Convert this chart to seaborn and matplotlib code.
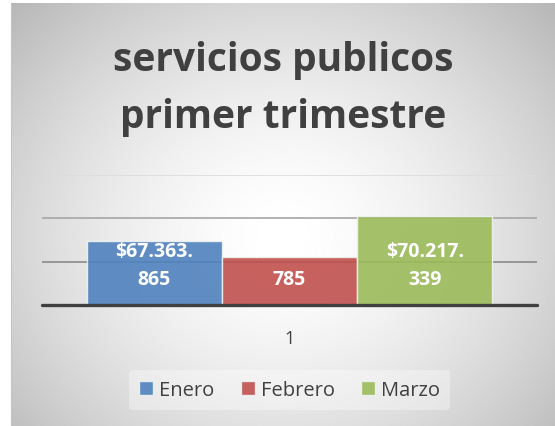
import numpy as np
import pandas as pd
import seaborn as sns
import matplotlib.pyplot as plt

# datos del grafico
meses = ['Enero', 'Febrero', 'Marzo']
valores = [67363865, 65480785, 70217339]
categoria = ['1', '1', '1']
colores = ['#4F81BD', '#C0504D', '#9BBB59']
titulo = 'servicios publicos\nprimer trimestre'
y_min, y_max = 60e6, 75e6

sns.set_style('white')
plt.rcParams['font.family'] = ['Open Sans', 'DejaVu Sans']

df = pd.DataFrame({'cat': categoria, 'mes': meses, 'valor': valores})

fig = plt.figure(figsize=(5.55, 4.27), dpi=100)
fig.patch.set_facecolor('white')

# fondo con degradado radial (estilo Excel)
bg = fig.add_axes([11 / 555, 0, 1 - 11 / 555, 1 - 4 / 427], zorder=0)
yy, xx = np.mgrid[0:1:300j, 0:1:400j]
r = np.sqrt(((xx - 0.5) / 0.75) ** 2 + ((yy - 0.55) / 0.85) ** 2)
shade = 1 - 0.32 * np.clip(r, 0, 1.2) ** 1.6
bg.imshow(shade, cmap='gray', vmin=0, vmax=1, aspect='auto', extent=[0, 1, 0, 1])
bg.set_xticks([])
bg.set_yticks([])
for s in bg.spines.values():
    s.set_visible(False)
bg.spines['left'].set_visible(True)
bg.spines['left'].set_color('#c4c4c4')

bg.text(0.5, (427 - 89) / 423, titulo, ha='center', va='center', fontsize=28,
        fontweight='bold', color='#404040', linespacing=1.58, transform=bg.transAxes)

# area de trazado
ax = fig.add_axes([42 / 555, (427 - 306) / 427, 495 / 555, 130.5 / 427], zorder=1)
ax.patch.set_alpha(0)

sns.barplot(data=df, x='cat', y='valor', hue='mes', palette=colores, ax=ax,
            width=0.82, edgecolor='#eef2f4', linewidth=1, saturation=1,
            alpha=0.9, zorder=2)

ax.set_ylim(y_min, y_max)
ax.set_yticks([])
for yv, c in zip([65e6, 70e6, 75e6], ['#8a8a8a', '#a6a6a6', '#dcdcdc']):
    ax.axhline(yv, color=c, lw=1.2, zorder=1)
ax.axhline(y_min, color='#404040', lw=2.4, zorder=4, clip_on=False)

for s in ax.spines.values():
    s.set_visible(False)

# etiquetas de datos (blancas, a una altura comun)
label_y = y_min + 0.305 * (y_max - y_min)
for bar, v in zip(ax.patches, valores):
    txt = f'${v:,}'.replace(',', '.')
    txt = txt[:-3] + '\n' + txt[-3:]
    xc = bar.get_x() + bar.get_width() / 2
    ax.text(xc, label_y, txt, ha='center', va='center', color='white',
            fontsize=14, fontweight='bold', linespacing=1.5, zorder=5)

ax.set_xlabel('')
ax.set_ylabel('')
ax.tick_params(axis='x', length=0, pad=17, labelsize=13, labelcolor='#404040')

leg = ax.legend(loc='center', bbox_to_anchor=(0.5, -85 / 130.5), ncol=3,
                frameon=True, fontsize=14.5, handlelength=0.7, handleheight=0.7,
                handletextpad=0.3, columnspacing=1.3, borderpad=0.5)
leg.get_frame().set_facecolor('white')
leg.get_frame().set_alpha(0.35)
leg.get_frame().set_edgecolor('none')
for t in leg.get_texts():
    t.set_color('#404040')

fig.savefig('out.png', dpi=100)
